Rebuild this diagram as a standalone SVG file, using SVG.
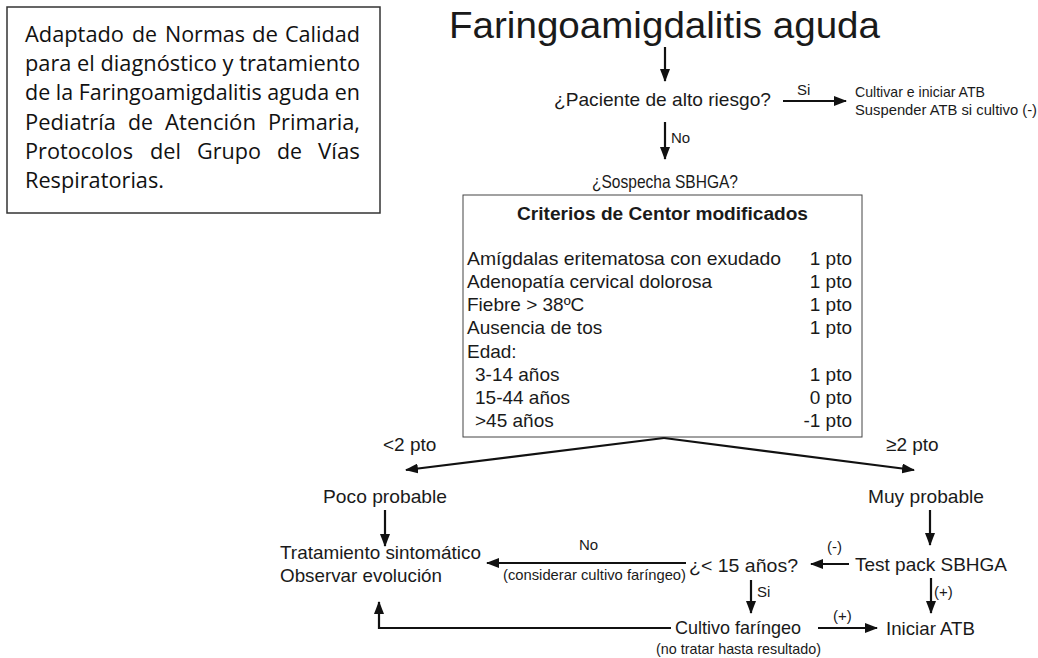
<svg xmlns="http://www.w3.org/2000/svg" width="1038" height="658" viewBox="0 0 1038 658">
<defs>
<style>
.t{font-family:"Liberation Sans",Arial,sans-serif;font-size:19px;fill:#1a1a1a}
.s{font-family:"Liberation Sans",Arial,sans-serif;font-size:15px;fill:#1a1a1a}
.c{font-family:"Open Sans","Liberation Sans",sans-serif;font-size:21px;fill:#111}
.ln{stroke:#111;stroke-width:2.2;fill:none}
</style>
<marker id="ah" markerWidth="13" markerHeight="10" refX="12" refY="5" orient="auto" markerUnits="userSpaceOnUse">
<path d="M0,0 L13,5 L0,10 Z" fill="#111"/>
</marker>
</defs>
<rect width="1038" height="658" fill="#fff"/>

<g id="note">
<rect x="7" y="7" width="373" height="206" fill="#fff" stroke="#333" stroke-width="1.5"/>
<g class="c" style="font-size:21px">
<text x="25" y="42" textLength="99" lengthAdjust="spacingAndGlyphs">Adaptado</text>
<text x="132" y="42" textLength="25" lengthAdjust="spacingAndGlyphs">de</text>
<text x="165" y="42" textLength="80" lengthAdjust="spacingAndGlyphs">Normas</text>
<text x="252" y="42" textLength="26" lengthAdjust="spacingAndGlyphs">de</text>
<text x="285" y="42" textLength="75" lengthAdjust="spacingAndGlyphs">Calidad</text>
<text x="25" y="71" textLength="335" lengthAdjust="spacingAndGlyphs">para el diagnóstico y tratamiento</text>
<text x="25" y="100" textLength="335" lengthAdjust="spacingAndGlyphs">de la Faringoamigdalitis aguda en</text>
<text x="25" y="130" textLength="91" lengthAdjust="spacingAndGlyphs">Pediatría</text>
<text x="128" y="130" textLength="25" lengthAdjust="spacingAndGlyphs">de</text>
<text x="165" y="130" textLength="91" lengthAdjust="spacingAndGlyphs">Atención</text>
<text x="268" y="130" textLength="92" lengthAdjust="spacingAndGlyphs">Primaria,</text>
<text x="25" y="159" textLength="108" lengthAdjust="spacingAndGlyphs">Protocolos</text>
<text x="150" y="159" textLength="31" lengthAdjust="spacingAndGlyphs">del</text>
<text x="197" y="159" textLength="64" lengthAdjust="spacingAndGlyphs">Grupo</text>
<text x="277" y="159" textLength="25" lengthAdjust="spacingAndGlyphs">de</text>
<text x="318" y="159" textLength="42" lengthAdjust="spacingAndGlyphs">Vías</text>
<text x="25" y="188" textLength="139" lengthAdjust="spacingAndGlyphs">Respiratorias.</text>
</g>
</g>

<g id="title">
<text class="t" x="449" y="38" style="font-size:36px" textLength="431" lengthAdjust="spacingAndGlyphs">Faringoamigdalitis aguda</text>
</g>

<g id="altoRiesgo">
<text class="t" x="554" y="106" textLength="217" lengthAdjust="spacingAndGlyphs">¿Paciente de alto riesgo?</text>
</g>
<g id="cultivar">
<text class="s" x="855" y="97" textLength="130" lengthAdjust="spacingAndGlyphs">Cultivar e iniciar ATB</text>
<text class="s" x="855" y="115" textLength="182" lengthAdjust="spacingAndGlyphs">Suspender ATB si cultivo (-)</text>
</g>
<g id="sospecha">
<text class="t" x="592" y="188" textLength="146" lengthAdjust="spacingAndGlyphs">¿Sospecha SBHGA?</text>
</g>

<g id="centor">
<rect x="463" y="195" width="399" height="242" fill="#fff" stroke="#444" stroke-width="1"/>
<text class="t" x="517" y="220" textLength="291" lengthAdjust="spacingAndGlyphs" style="font-weight:bold;font-size:17.5px">Criterios de Centor modificados</text>
<g class="t">
<text x="467" y="265" textLength="314" lengthAdjust="spacingAndGlyphs">Amígdalas eritematosa con exudado</text>
<text x="467" y="288">Adenopatía cervical dolorosa</text>
<text x="467" y="311">Fiebre &gt; 38ºC</text>
<text x="467" y="334">Ausencia de tos</text>
<text x="467" y="358">Edad:</text>
<text x="475" y="381">3-14 años</text>
<text x="475" y="404">15-44 años</text>
<text x="475" y="427">&gt;45 años</text>
</g>
<g class="t" text-anchor="end">
<text x="852" y="265">1 pto</text>
<text x="852" y="288">1 pto</text>
<text x="852" y="311">1 pto</text>
<text x="852" y="334">1 pto</text>
<text x="852" y="381">1 pto</text>
<text x="852" y="404">0 pto</text>
<text x="852" y="427">-1 pto</text>
</g>
</g>

<g id="poco"><text class="t" x="323" y="503" textLength="124" lengthAdjust="spacingAndGlyphs">Poco probable</text></g>
<g id="muy"><text class="t" x="868" y="503" textLength="116" lengthAdjust="spacingAndGlyphs">Muy probable</text></g>

<g id="tratamiento">
<text class="t" x="280" y="559" textLength="201" lengthAdjust="spacingAndGlyphs">Tratamiento sintomático</text>
<text class="t" x="280" y="582" textLength="162" lengthAdjust="spacingAndGlyphs">Observar evolución</text>
</g>
<g id="menor15"><text class="t" x="689" y="572" textLength="109" lengthAdjust="spacingAndGlyphs">¿&lt; 15 años?</text></g>
<g id="testpack"><text class="t" x="855" y="571" textLength="152" lengthAdjust="spacingAndGlyphs">Test pack SBHGA</text></g>
<g id="cultivo">
<text class="t" x="675" y="634" textLength="126" lengthAdjust="spacingAndGlyphs">Cultivo faríngeo</text>
<text class="s" x="656" y="654" textLength="165" lengthAdjust="spacingAndGlyphs">(no tratar hasta resultado)</text>
</g>
<g id="iniciar"><text class="t" x="886" y="635" textLength="89" lengthAdjust="spacingAndGlyphs">Iniciar ATB</text></g>

<g id="connectors">
<line class="ln" x1="665" y1="47" x2="665" y2="81" marker-end="url(#ah)"/>
<line class="ln" x1="783" y1="101" x2="846" y2="101" marker-end="url(#ah)"/>
<text class="s" x="797" y="95">Si</text>
<line class="ln" x1="665" y1="122" x2="665" y2="159" marker-end="url(#ah)"/>
<text class="s" x="671" y="143">No</text>
<line class="ln" x1="664" y1="438" x2="406" y2="470" marker-end="url(#ah)"/>
<line class="ln" x1="664" y1="438" x2="914" y2="470" marker-end="url(#ah)"/>
<text class="t" x="383" y="451">&lt;2 pto</text>
<text class="t" x="886" y="451">≥2 pto</text>
<line class="ln" x1="385" y1="510" x2="385" y2="546" marker-end="url(#ah)"/>
<line class="ln" x1="930" y1="510" x2="930" y2="545" marker-end="url(#ah)"/>
<line class="ln" x1="686" y1="563" x2="487" y2="563" marker-end="url(#ah)"/>
<text class="s" x="579" y="550">No</text>
<text class="s" x="503" y="580" textLength="183" lengthAdjust="spacingAndGlyphs">(considerar cultivo faríngeo)</text>
<line class="ln" x1="849" y1="564" x2="811" y2="564" marker-end="url(#ah)"/>
<text class="s" x="827" y="552">(-)</text>
<line class="ln" x1="751" y1="580" x2="751" y2="613" marker-end="url(#ah)"/>
<text class="s" x="757" y="597">Si</text>
<line class="ln" x1="931" y1="578" x2="931" y2="613" marker-end="url(#ah)"/>
<text class="s" x="934" y="597">(+)</text>
<line class="ln" x1="818" y1="628" x2="877" y2="628" marker-end="url(#ah)"/>
<text class="s" x="833" y="621">(+)</text>
<polyline class="ln" points="671,628 379,628 379,602" marker-end="url(#ah)"/>
</g>
</svg>
